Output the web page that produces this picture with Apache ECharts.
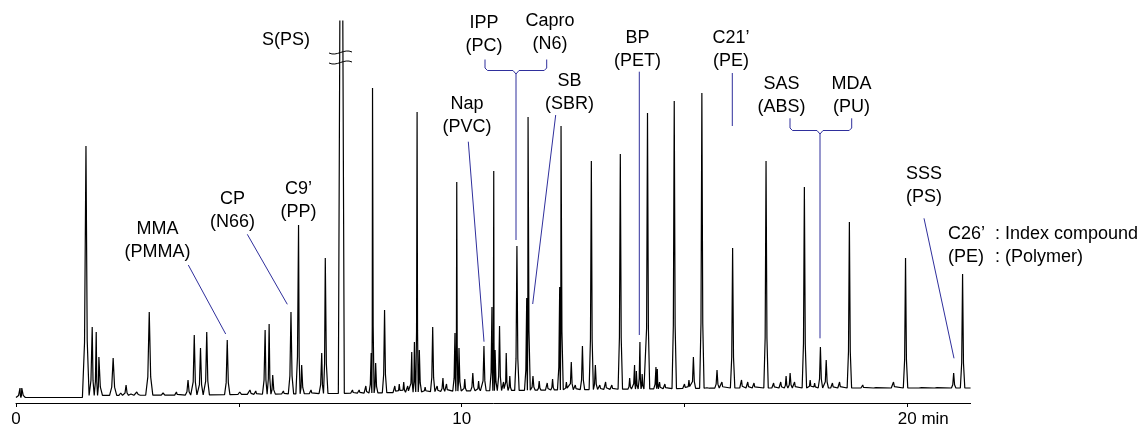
<!DOCTYPE html>
<html><head><meta charset="utf-8">
<script src="https://cdn.jsdelivr.net/npm/echarts/dist/echarts.min.js"></script>
<style>html,body{margin:0;padding:0;background:#fff}#c{width:1142px;height:436px}</style>
</head><body><div id="c"></div>
<script>
// ---- data (time in min, signal in arbitrary units) ----
const peakTimes = [0.09,0.13,1.57,1.71,1.80,1.86,2.18,2.47,2.71,2.99,3.86,4.00,4.14,4.28,4.74,5.25,5.59,5.68,5.76,6.17,6.34,6.41,6.86,6.94,7.30,7.97,8.00,8.07,8.27,8.88,8.94,9.00,9.05,9.35,9.58,9.85,9.89,9.94,10.25,10.50,10.68,10.72,10.75,10.85,11.00,11.24,11.46,11.49,11.60,12.20,12.23,12.46,12.71,12.91,13.00,13.56,13.88,13.92,14.00,14.17,14.36,14.39,14.77,15.20,15.39,15.73,16.08,16.83,17.37,17.69,18.05,18.18,18.70,19.69,19.96,21.04,21.24];
const peakHeights = [8,8,250,69,64,39,38,11,4,84,16,61,48,64,56,6,66,72,21,84,171,31,43,138,742,43,308,33,86,44,54,284,46,69,18,63,214,48,23,50,89,225,46,70,43,150,98,279,20,109,270,34,50,235,31,242,31,25,54,283,29,27,295,39,303,26,148,235,23,209,49,36,174,14,138,23,122];
const minorTimes = [2.35,2.58,3.30,3.60,5.02,5.38,6.00,6.62,7.55,7.70,7.85,8.50,8.60,8.70,8.79,9.18,9.45,9.66,10.07,10.38,10.94,11.08,11.74,11.92,12.04,12.35,12.55,13.10,13.23,13.37,13.77,14.05,14.44,14.56,15.00,15.10,15.52,15.84,16.28,16.42,16.56,17.00,17.16,17.28,17.47,17.82,17.92,18.32,18.48,19.00,19.28,20.30,20.65];
const minorHeights = [3,2,3,4,4,5,5,6,6,6,10,10,12,14,10,9,10,12,17,15,14,20,15,13,17,14,11,11,14,11,18,22,14,12,12,16,10,14,16,14,13,13,14,20,14,16,13,13,14,11,10,10,10];
const baselineTimes = [0,1.5,1.6,4,6,8,10,12,14,16,21.42];
const baselineLevels = [-1.5,-1.5,0.5,1,2,3,5,6,7,8,8];
const xTickLabels = {0:'0', 10:'10', 20:'20 min'};
const xMax = 21.42;

// ---- build trace ----
function base(t){
  for (let i=0;i<baselineTimes.length-1;i++){
    if (t<=baselineTimes[i+1]){
      const a=baselineTimes[i], b=baselineTimes[i+1];
      const f=Math.max(0,(t-a)/(b-a));
      return baselineLevels[i]+f*(baselineLevels[i+1]-baselineLevels[i]);
    }
  }
  return baselineLevels[baselineLevels.length-1];
}
const peaks = peakTimes.map((t,i)=>({t, h:peakHeights[i], w: t<3.2?0.08:(t<7?0.06:0.05), tri: peakHeights[i]>400}))
  .concat(minorTimes.map((t,i)=>({t, h:minorHeights[i], w:0.04})));
peaks.sort((a,b)=>a.t-b.t);
const trace=[[0,base(0)]];
peaks.forEach((p,i)=>{
  const prev = i>0?peaks[i-1].t:-1e9, next = i<peaks.length-1?peaks[i+1].t:1e9;
  const wl=Math.min(p.tri?0.067:p.w,(p.t-prev)/2), wr=Math.min(p.tri?0.067:p.w,(next-p.t)/2);
  const bl=base(p.t-wl), br=base(p.t+wr);
  if (p.tri){ trace.push([p.t-wl,bl],[p.t,p.h],[p.t+wr,br]); }
  else trace.push([p.t-wl,bl],[p.t-0.4*wl,bl+0.22*(p.h-bl)],[p.t,p.h],[p.t+0.4*wr,br+0.22*(p.h-br)],[p.t+wr,br]);
});
trace.push([xMax,base(xMax)]);

// ---- annotations ----
const BLUE='#2f2f9c';
const FONT='"Liberation Sans", Arial, sans-serif';
function lbl(text,cx,cy,align){
  return {type:'text', z:10, style:{text, x:cx, y:cy-11.5, align:align||'center', verticalAlign:'top',
    fontSize:18, fontFamily:FONT, lineHeight:23, fill:'#000'}};
}
function pl(points,color){
  return {type:'polyline', z:9, shape:{points}, style:{stroke:color||BLUE, lineWidth:1, fill:null}};
}
function brace(x1,x2,xc,yTop,yBar){
  return pl([[x1,yTop],[x1,yBar-2.5],[x1+2.5,yBar],[xc-3,yBar],[xc,yBar+3.5],[xc+3,yBar],[x2-2.5,yBar],[x2,yBar-2.5],[x2,yTop]]);
}
const graphics=[
  lbl('MMA\n(PMMA)',157.5,229.5),
  lbl('CP\n(N66)',232.5,199),
  lbl('C9\u2019\n(PP)',298.5,189.5),
  lbl('S(PS)',286,40.5),
  lbl('Nap\n(PVC)',467,104.5),
  lbl('IPP\n(PC)',484,23),
  lbl('Capro\n(N6)',550,21.5),
  lbl('SB\n(SBR)',569.5,81.5),
  lbl('BP\n(PET)',637.5,38),
  lbl('C21\u2019\n(PE)',731,38),
  lbl('SAS\n(ABS)',781.5,84.5),
  lbl('MDA\n(PU)',851.5,84.5),
  lbl('SSS\n(PS)',924,174.5),
  lbl('C26\u2019\n(PE)',948,234,'left'),
  lbl(': Index compound\n: (Polymer)',995,234,'left'),
  pl([[188.3,265],[225.7,334]]),
  pl([[247.3,234.3],[287.3,304.3]]),
  pl([[468.3,141.7],[484,341.7]]),
  brace(485,546.7,516,59.5,70.5),
  pl([[516,74],[516,240]]),
  pl([[555.7,115],[532.7,304]]),
  pl([[639.3,71.7],[639.3,335]]),
  pl([[732.3,73],[732.3,126]]),
  brace(790,851.7,820,118.3,130.5),
  pl([[820,134],[820,338.3]]),
  pl([[924,218.3],[954,358.3]]),
  {type:'bezierCurve', z:9, shape:{x1:329,y1:53,cpx1:337,cpy1:57,cpx2:344,cpy2:48,x2:352,y2:52}, style:{stroke:'#000',lineWidth:1,fill:null}},
  {type:'bezierCurve', z:9, shape:{x1:329,y1:63,cpx1:337,cpy1:67,cpx2:344,cpy2:58,x2:352,y2:62}, style:{stroke:'#000',lineWidth:1,fill:null}}
];

const chart=echarts.init(document.getElementById('c'),null,{renderer:'canvas'});
chart.setOption({
  animation:false,
  backgroundColor:'#fff',
  grid:{left:16,right:171.4,top:21,bottom:33,containLabel:false},
  xAxis:{type:'value',min:0,max:xMax,interval:5,
    axisLine:{show:true,onZero:false,lineStyle:{color:'#000',width:1}},
    axisTick:{show:true,length:4,lineStyle:{color:'#000'}},
    splitLine:{show:false},
    axisLabel:{margin:8,color:'#000',fontSize:17,fontFamily:FONT,showMaxLabel:false,
      formatter:v=>{const s=xTickLabels[v]; if(!s) return ''; return v===20?'{m|'+s+'}':s;},
      rich:{m:{fontSize:17,fontFamily:FONT,color:'#000',padding:[0,0,0,32]}}}},
  yAxis:{type:'value',min:-7,max:375,show:false,splitLine:{show:false}},
  series:[{type:'line',data:trace,showSymbol:false,symbol:'none',clip:true,
    lineStyle:{color:'#000',width:1.2},silent:true}],
  graphic:graphics
});
</script></body></html>
